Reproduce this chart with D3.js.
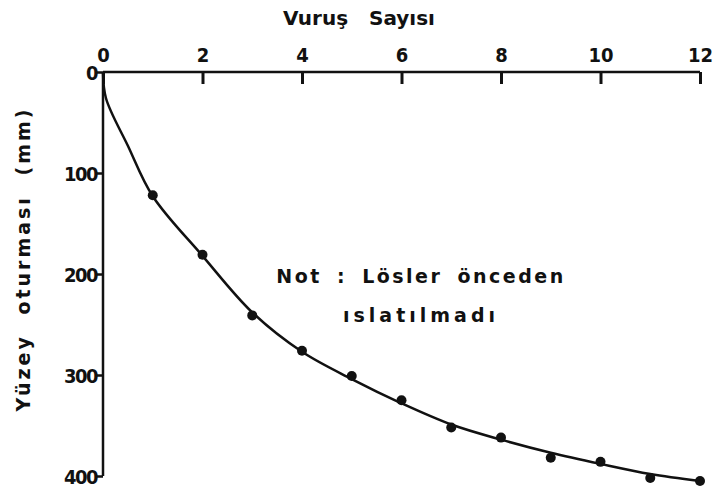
<!DOCTYPE html>
<html>
<head>
<meta charset="utf-8">
<script src="https://cdn.jsdelivr.net/npm/d3@7"></script>
<style>
  html, body { margin: 0; padding: 0; background: #fff; }
  svg { display: block; }
  text { fill: #111; }
</style>
</head>
<body>
<svg id="chart" width="715" height="495"></svg>
<script>
// Blow count (x) and measured surface settlement in mm (y)
const blows = [1, 2, 3, 4, 5, 6, 7, 8, 9, 10, 11, 12];
const settlement = [122, 181, 241, 276, 301, 325, 352, 362, 382, 386, 402, 405];

// Fitted settlement curve, read at these blow counts
const curveBlows = [0, 0.06, 0.5, 1, 2, 3, 4, 5, 6, 7, 8, 9, 10, 11, 12];
const curveSettlement = [0, 26, 73, 123, 182, 238, 277, 304, 328, 349, 364, 377, 388, 398, 405];

const xTicks = [0, 2, 4, 6, 8, 10, 12];
const yTicks = [0, 100, 200, 300, 400];

const xTitle = "Vuruş Sayısı";
const yTitle = "Yüzey oturması (mm)";
const noteLines = ["Not : Lösler önceden", "ıslatılmadı"];

const svg = d3.select("#chart");
const plot = { left: 103, right: 700, top: 72, bottom: 476 };

const x = d3.scaleLinear().domain([0, 12]).range([plot.left, plot.right]);
const y = d3.scaleLinear().domain([0, 400]).range([plot.top, plot.bottom]);

const tickFont = "'DejaVu Sans Condensed', 'DejaVu Sans', sans-serif";

// Top x axis, ticks pointing into the plot
const xAxis = svg.append("g")
  .attr("transform", `translate(0,${plot.top})`)
  .call(d3.axisBottom(x).tickValues(xTicks).tickSize(12).tickFormat(d3.format("d")));
xAxis.select(".domain").attr("stroke", "#111").attr("stroke-width", 2.5).attr("d", `M${plot.left},0H${plot.right}`);
xAxis.selectAll(".tick line").attr("stroke", "#111").attr("stroke-width", 3);
xAxis.selectAll(".tick text")
  .attr("y", -10).attr("dy", 0)
  .style("font-family", tickFont).style("font-weight", "bold").style("font-size", "20px")
  .attr("fill", "#111");

// Left y axis, settlement increasing downward
const yAxis = svg.append("g")
  .attr("transform", `translate(${plot.left},0)`)
  .call(d3.axisLeft(y).tickValues(yTicks).tickSize(6).tickFormat(d3.format("d")));
yAxis.select(".domain").attr("stroke", "#111").attr("stroke-width", 2.5).attr("d", `M0,${plot.top}V${plot.bottom}`);
yAxis.selectAll(".tick line").attr("stroke", "#111").attr("stroke-width", 2.5);
yAxis.selectAll(".tick text")
  .attr("x", -6).attr("dy", "0.36em")
  .style("font-family", tickFont).style("font-weight", "bold").style("font-size", "20px")
  .style("letter-spacing", "-1.5px")
  .attr("fill", "#111");

// Axis titles
svg.append("text")
  .attr("x", 359).attr("y", 25)
  .attr("text-anchor", "middle")
  .style("font-family", "'DejaVu Sans', sans-serif").style("font-weight", "bold")
  .style("font-size", "20px").style("word-spacing", "14px")
  .text(xTitle);

svg.append("text")
  .attr("transform", "translate(30,259) rotate(-90)")
  .attr("text-anchor", "middle")
  .style("font-family", "'DejaVu Sans', sans-serif").style("font-weight", "bold")
  .style("font-size", "19px").style("letter-spacing", "3px").style("word-spacing", "10px")
  .text(yTitle);

// Fitted curve
const line = d3.line()
  .x((d, i) => x(curveBlows[i]))
  .y(d => y(d))
  .curve(d3.curveCatmullRom.alpha(0.5));

svg.append("path")
  .datum(curveSettlement)
  .attr("d", line)
  .attr("fill", "none")
  .attr("stroke", "#111")
  .attr("stroke-width", 2.5);

// Measured points
svg.append("g").selectAll("circle")
  .data(settlement)
  .join("circle")
  .attr("cx", (d, i) => x(blows[i]))
  .attr("cy", d => y(d))
  .attr("r", 5)
  .attr("fill", "#111");

// Note inside the plot
svg.append("g").selectAll("text")
  .data(noteLines)
  .join("text")
  .attr("x", 421)
  .attr("y", (d, i) => 283 + i * 39)
  .attr("text-anchor", "middle")
  .style("font-family", "'DejaVu Sans', sans-serif").style("font-weight", "bold")
  .style("font-size", "19px").style("letter-spacing", (d, i) => i ? "4px" : "2.5px").style("word-spacing", "6px")
  .text(d => d);
</script>
</body>
</html>
